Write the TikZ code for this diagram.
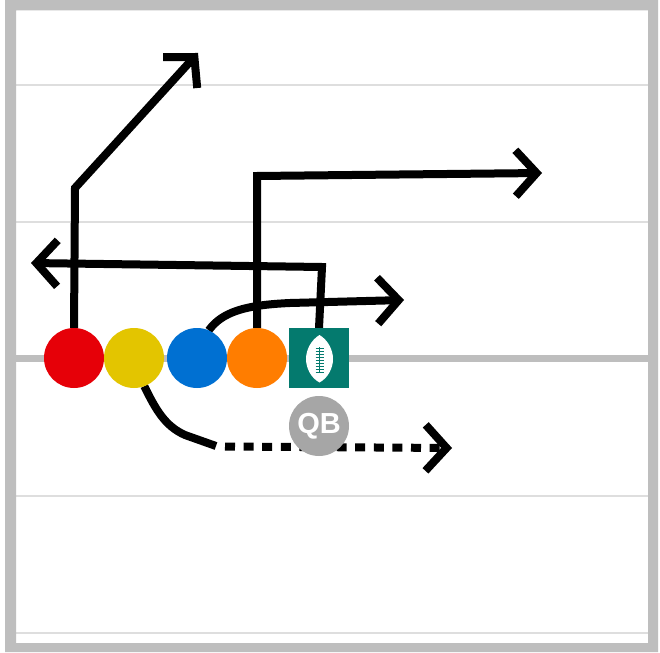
\documentclass[tikz,border=0pt]{standalone}
\usepackage{fontspec}
\setmainfont{Liberation Sans}
\usetikzlibrary{arrows.meta,calc}
\pgfdeclarelayer{under}
\pgfsetlayers{under,main}
\definecolor{framegray}{HTML}{BEBEBE}
\definecolor{yardgray}{HTML}{DEDEDE}
\definecolor{qbgray}{HTML}{A6A6A6}
\definecolor{teal1}{HTML}{047A6E}
\definecolor{redp}{HTML}{E60008}
\definecolor{yellowp}{HTML}{E3C500}
\definecolor{bluep}{HTML}{0070D2}
\definecolor{orangep}{HTML}{FF7D00}
\tikzset{
  x=1pt,y=-1pt,
  player/.style={circle,minimum size=60pt,inner sep=0pt,outer sep=0pt},
  yard/.style={yardgray,line width=2pt},
  route/.style={line width=8pt,black,miter limit=10,-{Straight Barb[length=21pt,width=46pt,line width=8pt]}},
  routeplain/.style={line width=8pt,black},
  lace/.style={teal1,line width=.9pt}
}
\begin{document}
\begin{tikzpicture}
\useasboundingbox (0,0) rectangle (660,652);
% players
\node[player,fill=redp] (red) at (74,358) {};
\node[player,fill=yellowp] (yellow) at (134,358) {};
\node[player,fill=bluep] (blue) at (197,358) {};
\node[player,fill=orangep] (orange) at (257,358) {};
\node[rectangle,fill=teal1,minimum size=60pt,inner sep=0pt,outer sep=0pt] (center) at (319,358) {};
\node[player,fill=qbgray,text=white,font=\bfseries\fontsize{29}{29}\selectfont] (qb) at (319,426) {\raisebox{-2pt}{QB}};
% football
\fill[white] (319.5,335) .. controls (328,340) and (333,350) .. (333,359) .. controls (333,368) and (328,378) .. (319.5,382.5) .. controls (311,378) and (306,368) .. (306,359) .. controls (306,350) and (311,340) .. (319.5,335) -- cycle;
\draw[lace] (319.5,347) -- (319.5,372);
\foreach \yy in {348,351,354,357,360,363,366,369,372}{\draw[lace] (315.5,\yy) -- (323.5,\yy);}
% coordinates
\coordinate (redbend) at (75,188);
\coordinate (redend) at (198,53);
\coordinate (orangebend) at (257,176);
\coordinate (orangeend) at (542,173);
\coordinate (centerbend) at (322,267);
\coordinate (centerend) at (31,263);
\coordinate (blueend) at (404,300);
\coordinate (yellowbreak) at (216,446);
\coordinate (dotstart) at (225,446.5);
\coordinate (dotend) at (452,448);
\begin{pgfonlayer}{under}
\fill[white] (0,0) rectangle (660,652);
% frame and yard lines
\draw[yard] (16,85) -- (648,85);
\draw[yard] (16,222) -- (648,222);
\draw[yard] (16,496) -- (648,496);
\draw[yard] (16,633) -- (648,633);
\fill[framegray] (16,355) rectangle (648,362);
\fill[framegray,even odd rule] (5,0) rectangle (658,652) (16,10.5) rectangle (648,643);
% routes
\draw[route] (red.north) -- (redbend) -- (redend);
\draw[route] (orange.north) -- (orangebend) -- (orangeend);
\draw[route] (center.north) -- (centerbend) -- (centerend);
\draw[route] (blue.67) .. controls (222,312) and (245,305) .. (290,303) -- (blueend);
\draw[routeplain] (yellow.-70) .. controls (156,410) and (165,426) .. (185,435) -- (yellowbreak);
\draw[route,dash pattern=on 10pt off 8.6pt] (dotstart) -- (dotend);
\end{pgfonlayer}
\end{tikzpicture}
\end{document}
